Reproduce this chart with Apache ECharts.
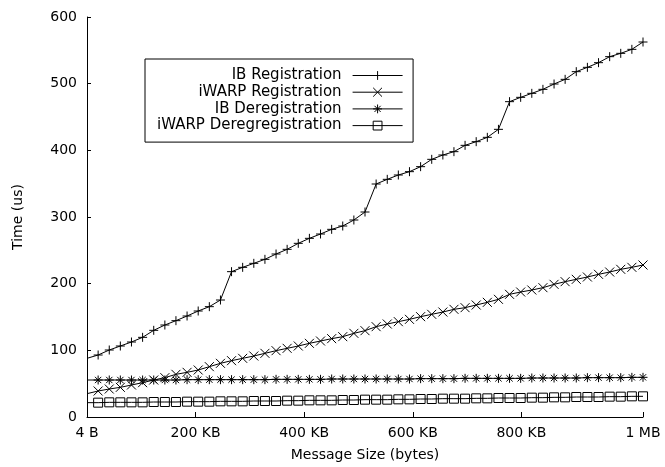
<!DOCTYPE html>
<html>
<head>
<meta charset="utf-8">
<title>Registration cost</title>
<script src="https://cdn.jsdelivr.net/npm/echarts@6/dist/echarts.min.js"></script>
<style>
	html, body { margin: 0; padding: 0; background: #fff; }
	#chart { width: 665px; height: 467px; }
</style>
</head>
<body>
<div id="chart"></div>
<script>
// message sizes in KB (first one is 4 B)
var sizes = [0, 20.5, 41, 61.4, 81.9, 102.4, 122.9, 143.4, 163.8, 184.3,
	204.8, 225.3, 245.8, 266.2, 286.7, 307.2, 327.7, 348.2, 368.6, 389.1,
	409.6, 430.1, 450.6, 471, 491.5, 512, 532.5, 553, 573.4, 593.9,
	614.4, 634.9, 655.4, 675.8, 696.3, 716.8, 737.3, 757.8, 778.2, 798.7,
	819.2, 839.7, 860.2, 880.6, 901.1, 921.6, 942.1, 962.6, 983, 1003.5, 1024];

var xTicks = [0, 200, 400, 600, 800, 1024];
var xTickLabels = ['4 B', '200 KB', '400 KB', '600 KB', '800 KB', '1 MB'];

var seriesNames = ['IB Registration', 'iWARP Registration', 'IB Deregistration', 'iWARP Deregregistration'];

// times in us
var ibReg = [88, 93, 100.5, 106.5, 112.5, 119.5, 130, 138, 144.5, 151.5, 159, 165.5, 175.5,
	218, 224.5, 230.5, 236.5, 244.5, 251.5, 260.5, 268, 274.5, 281.5, 286.5, 295.5, 307.5,
	349.5, 356.5, 363, 368, 375.5, 386.5, 393, 398, 407.5, 413, 419.5, 431.5,
	473, 479.5, 485.5, 491.5, 499.5, 506.5, 518, 524.5, 531.5, 540.5, 545.5, 551.5, 562.5];
var iwarpReg = [35, 39, 42, 44.5, 48, 51.5, 55.5, 59, 64, 67, 70.5,
	75.5, 80.5, 84.5, 88, 91.5, 95.5, 99.5, 103, 106.5, 110.5,
	114, 117.5, 120.5, 125.5, 129.5, 135.5, 139.5, 143, 146.5, 150.5,
	154, 157.5, 161.5, 164, 168, 172, 176.5, 184, 187.5, 190.5,
	194, 199, 203, 206.5, 210, 214, 217.5, 221.5, 224.5, 228];
var ibDereg = [55.5, 55.5, 55.5, 55.5, 55.5, 55.5, 55.5, 55.5, 55.5, 56,
	56, 56, 56, 56, 56, 56, 56, 56.5, 56.5, 56.5,
	56.5, 56.5, 57, 57, 57, 57, 57, 57, 57, 57,
	57.5, 57.5, 57.5, 57.5, 58, 58, 58, 58, 58, 58,
	58.5, 58.5, 58.5, 58.5, 58.5, 59, 59, 59, 59, 59.5, 59.5];
var iwarpDereg = [21.5, 21.5, 22, 22, 22, 22, 22.5, 22.5, 22.5, 23,
	23, 23, 23.5, 23.5, 23.5, 24, 24, 24, 24.5, 24.5,
	25, 25, 25, 25.5, 25.5, 26, 26, 26, 26.5, 26.5,
	27, 27, 27.5, 27.5, 27.5, 28, 28, 28.5, 28.5, 28.5,
	29, 29, 29.5, 29.5, 30, 30, 30, 30.5, 30.5, 31, 31];

var FONT = 'DejaVu Sans';

// gnuplot style point marks
var marks = [
	'path://M0,5L10,5M5,0L5,10',
	'path://M0,0L10,10M10,0L0,10',
	'path://M0,5L10,5M5,0L5,10M1.5,1.5L8.5,8.5M8.5,1.5L1.5,8.5',
	'path://M0,0L10,0L10,10L0,10Z'
];

function toData(values) {
	var data = [];
	for (var i = 0; i < values.length; i++) {
		var item = { value: [sizes[i], values[i]] };
		// no mark on the 4 B point (it sits on the border)
		if (i == 0) item.symbol = 'none';
		data.push(item);
	}
	return data;
}

function makeSeries(name, values, mark) {
	return {
		name: name,
		type: 'line',
		data: toData(values),
		symbol: mark,
		symbolSize: 9,
		showAllSymbol: true,
		lineStyle: { color: '#000', width: 1 },
		itemStyle: { color: 'rgba(0,0,0,0)', borderColor: '#000', borderWidth: 1 },
		emphasis: { disabled: true },
		z: 2
	};
}

var chart = echarts.init(document.getElementById('chart'), null, { renderer: 'canvas' });

var option = {
	animation: false,
	textStyle: { fontFamily: FONT, color: '#000' },
	grid: { left: 87, right: 22, top: 17, bottom: 50, containLabel: false, outerBoundsMode: 'none' },
	legend: {
		data: seriesNames,
		orient: 'vertical',
		align: 'right',
		left: 145,
		top: 59,
		padding: [9, 10, 9, 12],
		itemWidth: 50,
		itemHeight: 11,
		itemGap: 1.7,
		borderColor: '#000',
		borderWidth: 1,
		borderRadius: 0,
		selectedMode: false,
		lineStyle: { width: 1, color: '#000' },
		itemStyle: { borderWidth: 1, borderColor: '#000' },
		textStyle: {
			fontFamily: FONT, fontSize: 15, color: '#000',
			padding: [0, 6, 0, 0]
		}
	},
	xAxis: {
		type: 'value',
		min: 0,
		max: 1024,
		name: 'Message Size (bytes)',
		nameLocation: 'middle',
		nameGap: 31,
		nameTextStyle: { fontFamily: FONT, fontSize: 14, color: '#000' },
		axisLine: { lineStyle: { color: '#000', width: 1 } },
		axisTick: { inside: true, length: 5, lineStyle: { color: '#000' }, customValues: xTicks },
		axisLabel: {
			customValues: xTicks,
			margin: 9,
			fontFamily: FONT, fontSize: 14, color: '#000',
			formatter: function (v) {
				var i = xTicks.indexOf(v);
				return i >= 0 ? xTickLabels[i] : '';
			}
		},
		splitLine: { show: false }
	},
	yAxis: {
		type: 'value',
		min: 0,
		max: 600,
		interval: 100,
		name: 'Time (us)',
		nameLocation: 'middle',
		nameGap: 62,
		nameTextStyle: { fontFamily: FONT, fontSize: 14, color: '#000' },
		axisLine: { show: true, lineStyle: { color: '#000', width: 1 } },
		axisTick: { show: true, inside: true, length: 4, lineStyle: { color: '#000' } },
		axisLabel: { margin: 10, fontFamily: FONT, fontSize: 14, color: '#000' },
		splitLine: { show: false }
	},
	series: [
		makeSeries(seriesNames[0], ibReg, marks[0]),
		makeSeries(seriesNames[1], iwarpReg, marks[1]),
		makeSeries(seriesNames[2], ibDereg, marks[2]),
		makeSeries(seriesNames[3], iwarpDereg, marks[3])
	]
};

chart.setOption(option);
</script>
</body>
</html>
